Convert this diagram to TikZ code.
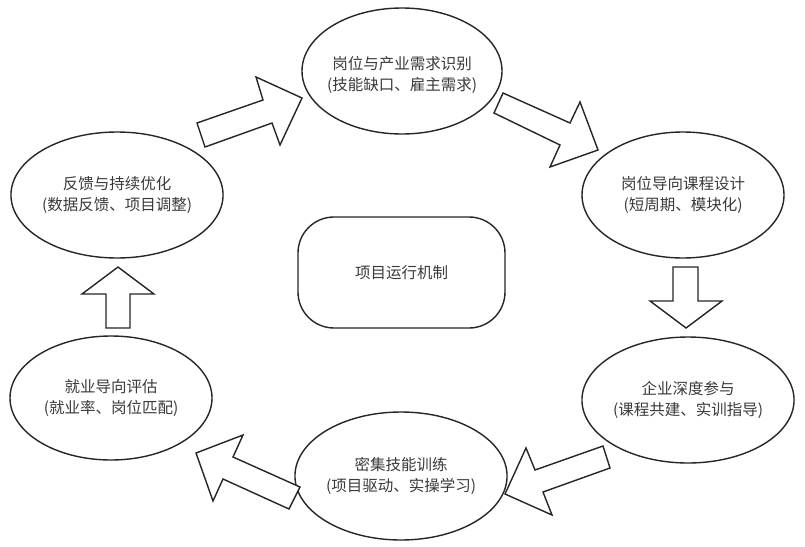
\documentclass[tikz,border=0pt]{standalone}
\usepackage{fontspec}
\setmainfont{Noto Sans CJK SC}
\usetikzlibrary{shapes.geometric}
\definecolor{ln}{HTML}{262626}
\definecolor{tx}{HTML}{3A3A3A}
\begin{document}
\begin{tikzpicture}[x=1pt,y=-1pt,
  stage/.style={ellipse,draw=ln,line width=1.4pt,fill=white,minimum width=202pt,minimum height=126pt,
    inner sep=0pt,align=center,text=tx,font=\fontsize{15.5}{21}\selectfont},
  core/.style={rectangle,rounded corners=36pt,draw=ln,line width=1.4pt,minimum width=207pt,minimum height=111pt,
    inner sep=0pt,align=center,text=tx,font=\fontsize{15.5}{21}\selectfont},
  blockarrow/.style={draw=ln,line width=1.4pt,fill=white,line join=miter}]
\useasboundingbox (0,0) rectangle (805,546);
\fill[white] (0,0) rectangle (805,546);
\node[stage,minimum width=200pt] (top) at (402,71) {};
\node[text=tx,align=center,font=\fontsize{15.5}{21}\selectfont,inner sep=0pt] (toptext) at (402,75) {岗位与产业需求识别\\(技能缺口、雇主需求)};
\node[stage] (rt) at (683,195) {岗位导向课程设计\\(短周期、模块化)};
\node[stage] (rb) at (688,400) {企业深度参与\\(课程共建、实训指导)};
\node[stage,minimum width=204pt,minimum height=128pt] (bot) at (401,476) {密集技能训练\\(项目驱动、实操学习)};
\node[stage,minimum height=124pt] (lb) at (111,398) {就业导向评估\\(就业率、岗位匹配)};
\node[stage] (lt) at (117,195) {反馈与持续优化\\(数据反馈、项目调整)};
\node[core] (mid) at (401.5,272.5) {项目运行机制};
% block arrows between stages
\draw[blockarrow] (197,123) -- (263,100) -- (256,77) -- (302,98) -- (280,145) -- (272,123) -- (205,147) -- cycle;
\draw[blockarrow] (503,93) -- (570,123) -- (580,102) -- (598,150) -- (550,167) -- (560,145) -- (494,113) -- cycle;
\draw[blockarrow] (673,267) -- (698,267) -- (698,301) -- (722,301) -- (686,328) -- (650,301) -- (673,301) -- cycle;
\draw[blockarrow] (603,446) -- (535,470) -- (526,448) -- (505,494) -- (552,515) -- (543,492) -- (610,468) -- cycle;
\draw[blockarrow] (196,453) -- (243,435) -- (233,457) -- (300,487) -- (289,509) -- (223,479) -- (213,501) -- cycle;
\draw[blockarrow] (118,267) -- (154,294) -- (130,294) -- (130,328) -- (106,328) -- (106,294) -- (82,294) -- cycle;
\end{tikzpicture}
\end{document}
